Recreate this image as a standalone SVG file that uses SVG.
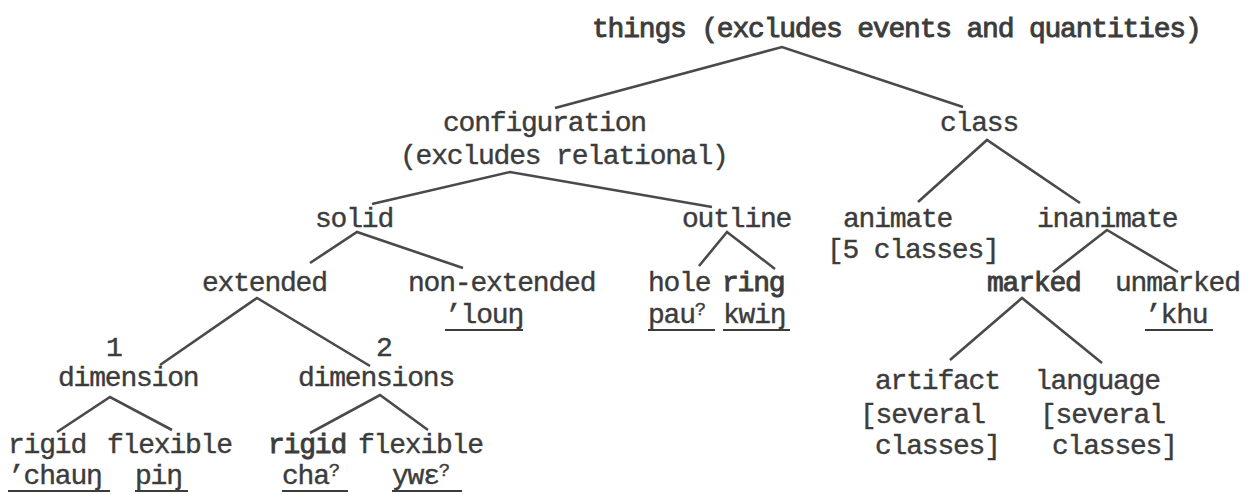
<svg xmlns="http://www.w3.org/2000/svg" width="1249" height="494" viewBox="0 0 1249 494">
<style>
text{font-family:"Liberation Mono","DejaVu Sans Mono",monospace;font-size:28px;letter-spacing:-1.2px;fill:#3c3c3c;stroke:#3c3c3c;stroke-width:0.4px}
.b{stroke-width:0.9px}
.u{stroke:#3c3c3c;stroke-width:2.2;fill:none}
.c polyline{fill:none;stroke:#4a4a4a;stroke-width:2.6;stroke-linejoin:miter}
.g{font-size:19px;letter-spacing:0}
</style>
<rect width="1249" height="494" fill="#ffffff"/>
<g class="c" id="connectors">
<polyline points="555,108 782,47 963,107"/>
<polyline points="372,204 510,172 712,207"/>
<polyline points="310,263 357,232 463,268"/>
<polyline points="699,266 727,232 775,269"/>
<polyline points="918,202 987,140 1080,203"/>
<polyline points="1053,272 1107,230 1178,272"/>
<polyline points="160,365 257,298 370,366"/>
<polyline points="57,432 110,397 172,430"/>
<polyline points="310,433 380,395 428,430"/>
<polyline points="950,360 1022,298 1102,363"/>
</g>
<g id="things"><text class="b" x="592" y="37">things (excludes events and quantities)</text></g>
<g id="configuration"><text x="443" y="131">configuration</text><text x="400" y="164">(excludes relational)</text></g>
<g id="class"><text x="940" y="131">class</text></g>
<g id="solid"><text x="315" y="227">solid</text></g>
<g id="outline"><text x="682" y="227">outline</text></g>
<g id="animate"><text x="843" y="227">animate</text><text x="827" y="258">[5 classes]</text></g>
<g id="inanimate"><text x="1037" y="227">inanimate</text></g>
<g id="extended"><text x="202" y="291">extended</text></g>
<g id="non-extended"><text x="408" y="291">non-extended</text><text x="445" y="323">’louŋ</text><line class="u" x1="445" y1="330" x2="523" y2="330"/></g>
<g id="hole"><text x="648" y="291">hole</text><text x="648" y="323">pau<tspan class="g" dy="-8">?</tspan></text><line class="u" x1="648" y1="330" x2="715" y2="330"/></g>
<g id="ring"><text class="b" x="722" y="291">ring</text><text x="723" y="323">kwiŋ</text><line class="u" x1="723" y1="330" x2="790" y2="330"/></g>
<g id="marked"><text class="b" x="987" y="291">marked</text></g>
<g id="unmarked"><text x="1115" y="291">unmarked</text><text x="1145" y="323">’khu</text><line class="u" x1="1145" y1="330" x2="1213" y2="330"/></g>
<g id="dimension1"><text x="106" y="356">1</text><text x="58" y="386">dimension</text></g>
<g id="dimensions2"><text x="376" y="356">2</text><text x="298" y="386">dimensions</text></g>
<g id="artifact"><text x="875" y="389">artifact</text><text x="860" y="423">[several</text><text x="875" y="454">classes]</text></g>
<g id="language"><text x="1035" y="389">language</text><text x="1040" y="423">[several</text><text x="1052" y="454">classes]</text></g>
<g id="rigid1"><text x="8" y="453">rigid</text><text x="8" y="484">’chauŋ</text><line class="u" x1="8" y1="491" x2="110" y2="491"/></g>
<g id="flexible1"><text x="107" y="453">flexible</text><text x="135" y="484">piŋ</text><line class="u" x1="135" y1="491" x2="188" y2="491"/></g>
<g id="rigid2"><text class="b" x="268" y="453">rigid</text><text x="282" y="484">cha<tspan class="g" dy="-8">?</tspan></text><line class="u" x1="282" y1="491" x2="348" y2="491"/></g>
<g id="flexible2"><text x="358" y="453">flexible</text><text x="392" y="484">ywɛ<tspan class="g" dy="-8">?</tspan></text><line class="u" x1="392" y1="491" x2="462" y2="491"/></g>
</svg>
